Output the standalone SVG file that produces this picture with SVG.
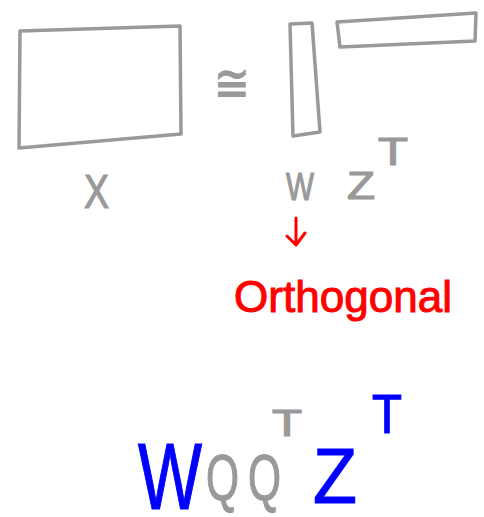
<svg xmlns="http://www.w3.org/2000/svg" width="484" height="517" viewBox="0 0 484 517">
<style>
.box{fill:none;stroke:#999;stroke-width:3.5;stroke-linejoin:round;stroke-linecap:round}
.g{fill:#999;stroke:#999;stroke-width:1.2;font-family:"Liberation Sans",Arial,sans-serif}
.r{fill:#f00;stroke:#f00;stroke-width:1;font-family:"Liberation Sans",Arial,sans-serif}
.b{fill:#00f;stroke:#00f;stroke-width:1.2;font-family:"Liberation Sans",Arial,sans-serif}
</style>
<rect width="484" height="517" fill="#fff"/>
<g id="matrixX">
<path class="box" d="M20,31 L180,26 L181,134 L19,148 Z"/>
<text class="g" x="84" y="208" font-size="48" textLength="25" lengthAdjust="spacingAndGlyphs">X</text>
</g>
<g id="approx">
<text class="g" x="214" y="101" font-size="52" textLength="36" lengthAdjust="spacingAndGlyphs">≅</text>
</g>
<g id="matrixW">
<path class="box" d="M290,24 L312,23 L320,132 L293,136 Z"/>
<text class="g" x="286" y="200" font-size="39" textLength="28" lengthAdjust="spacingAndGlyphs">W</text>
</g>
<g id="matrixZT">
<path class="box" d="M337,22 L476,13 L475,41 L340,47 Z"/>
<text class="g" x="347" y="199" font-size="38" textLength="28" lengthAdjust="spacingAndGlyphs">Z</text>
<text class="g" x="378" y="165" font-size="38" textLength="30" lengthAdjust="spacingAndGlyphs">T</text>
</g>
<g id="connectors">
<path d="M296,218 L296,244 M287,236 L296,245 L305,233" fill="none" stroke="#f00" stroke-width="3" stroke-linecap="round" stroke-linejoin="round"/>
</g>
<g id="orthogonal">
<text class="r" x="234" y="312" font-size="44" textLength="218" lengthAdjust="spacingAndGlyphs">Orthogonal</text>
</g>
<g id="formula">
<text class="b" x="138" y="509" font-size="94" textLength="64" lengthAdjust="spacingAndGlyphs">W</text>
<text class="g" x="206" y="500" font-size="64" textLength="33" lengthAdjust="spacingAndGlyphs">Q</text>
<text class="g" x="248" y="500" font-size="64" textLength="33" lengthAdjust="spacingAndGlyphs">Q</text>
<text class="g" x="272" y="436" font-size="36" textLength="30" lengthAdjust="spacingAndGlyphs">T</text>
<text class="b" x="313" y="503" font-size="78" textLength="44" lengthAdjust="spacingAndGlyphs">Z</text>
<text class="b" x="372" y="433" font-size="56" textLength="30" lengthAdjust="spacingAndGlyphs">T</text>
</g>
</svg>
